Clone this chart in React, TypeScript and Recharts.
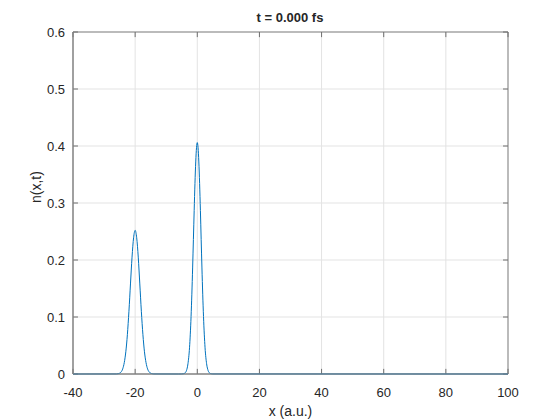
import { CartesianGrid, Line, LineChart, XAxis, YAxis, Label, ReferenceArea, ReferenceLine } from 'recharts'

const xValues = [
  -40, -26, -25.5, -25, -24.5, -24, -23.5, -23, -22.5, -22, -21.5, -21, -20.5, -20,
  -19.5, -19, -18.5, -18, -17.5, -17, -16.5, -16, -15.5, -15, -14.5, -14, -6,
  -5, -4.5, -4, -3.5, -3, -2.5, -2, -1.75, -1.5, -1.25, -1, -0.75, -0.5, -0.25, 0,
  0.25, 0.5, 0.75, 1, 1.25, 1.5, 1.75, 2, 2.5, 3, 3.5, 4, 4.5, 5, 100,
]
const nValues = [
  0, 0.0001, 0.0005, 0.0014, 0.0037, 0.009, 0.02, 0.039, 0.069, 0.11, 0.158, 0.205, 0.239, 0.252,
  0.239, 0.205, 0.158, 0.11, 0.069, 0.039, 0.02, 0.009, 0.0037, 0.0014, 0.0005, 0.0001, 0,
  0.0001, 0.0004, 0.0016, 0.0058, 0.018, 0.046, 0.101, 0.14, 0.186, 0.236, 0.287, 0.334, 0.372, 0.397, 0.406,
  0.397, 0.372, 0.334, 0.287, 0.236, 0.186, 0.14, 0.101, 0.046, 0.018, 0.0058, 0.0016, 0.0004, 0.0001, 0,
]
const xTicks = [-40, -20, 0, 20, 40, 60, 80, 100]
const yTicks = [0, 0.1, 0.2, 0.3, 0.4, 0.5, 0.6]

const data = xValues.map((x, i) => ({ x, n: nValues[i] }))

const font = 'Liberation Sans, Arial, sans-serif'
const axisColor = '#858585'
const tickColor = '#6e6e6e'
const textColor = '#262626'

// inward tick length in data units (about 5px)
const xTickLen = 0.009
const yTickLen = 1.6

export default function App() {
  return (
    <div style={{ position: 'absolute', left: 0, top: 0, width: 560, height: 420, background: '#fff', fontFamily: font }}>
      <LineChart width={560} height={420} data={data} margin={{ top: 32, right: 52, bottom: 16, left: 0 }}>
        <CartesianGrid stroke="#e3e3e3" horizontalValues={yTicks} verticalValues={xTicks} />
        <XAxis
          dataKey="x"
          type="number"
          domain={[-40, 100]}
          ticks={xTicks}
          allowDataOverflow
          height={30}
          stroke={axisColor}
          tickLine={false}
          tickMargin={8}
          tick={{ fill: textColor, fontSize: 13, fontFamily: font }}
        >
          <Label value="x (a.u.)" position="insideBottom" offset={-12} fill={textColor} fontSize={14} fontFamily={font} />
        </XAxis>
        <YAxis
          type="number"
          domain={[0, 0.6]}
          ticks={yTicks}
          width={73}
          stroke={axisColor}
          tickLine={false}
          tickMargin={2}
          tick={{ fill: textColor, fontSize: 13, fontFamily: font }}
        >
          <Label value="n(x,t)" angle={-90} position="insideLeft" offset={36} fill={textColor} fontSize={14} fontFamily={font} />
        </YAxis>
        <ReferenceArea x1={-40} x2={100} y1={0} y2={0.6} fill="none" stroke={axisColor} strokeOpacity={1} ifOverflow="visible" />
        {xTicks.map((t) => (
          <ReferenceLine key={`xb${t}`} segment={[{ x: t, y: 0 }, { x: t, y: xTickLen }]} stroke={tickColor} />
        ))}
        {xTicks.map((t) => (
          <ReferenceLine key={`xt${t}`} segment={[{ x: t, y: 0.6 }, { x: t, y: 0.6 - xTickLen }]} stroke={tickColor} />
        ))}
        {yTicks.map((t) => (
          <ReferenceLine key={`yl${t}`} segment={[{ x: -40, y: t }, { x: -40 + yTickLen, y: t }]} stroke={tickColor} />
        ))}
        {yTicks.map((t) => (
          <ReferenceLine key={`yr${t}`} segment={[{ x: 100, y: t }, { x: 100 - yTickLen, y: t }]} stroke={tickColor} />
        ))}
        <Line
          dataKey="n"
          type="monotone"
          stroke="#0072BD"
          strokeWidth={1}
          dot={false}
          isAnimationActive={false}
        />
        <text x={290} y={22} textAnchor="middle" fontSize={13} fontWeight="bold" fill={textColor} fontFamily={font}>
          t = 0.000 fs
        </text>
      </LineChart>
    </div>
  )
}
